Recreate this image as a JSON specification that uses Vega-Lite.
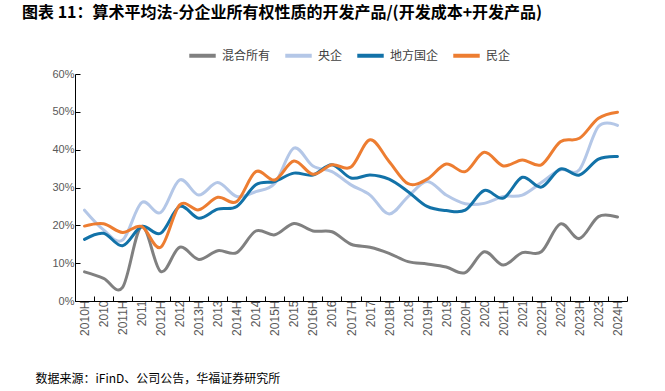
{
  "$schema": "https://vega.github.io/schema/vega-lite/v6.json",
  "width": 552,
  "height": 227,
  "autosize": "none",
  "padding": {"left": 75, "top": 74, "right": 38, "bottom": 90},
  "background": "white",
  "config": {"view": {"stroke": null}, "font": "Liberation Sans"},
  "title": {
    "text": "图表 11：算术平均法-分企业所有权性质的开发产品/(开发成本+开发产品)",
    "anchor": "start",
    "frame": "group",
    "dx": -53,
    "offset": 19,
    "font": "Noto Sans CJK SC",
    "fontSize": 16,
    "fontWeight": "bold",
    "color": "#000000"
  },
  "data": {
    "values": [
      {"p":"2010H","t":"混合所有","v":0.077},{"p":"2010","t":"混合所有","v":0.060},{"p":"2011H","t":"混合所有","v":0.036},{"p":"2011","t":"混合所有","v":0.197},{"p":"2012H","t":"混合所有","v":0.078},{"p":"2012","t":"混合所有","v":0.142},{"p":"2013H","t":"混合所有","v":0.110},{"p":"2013","t":"混合所有","v":0.133},{"p":"2014H","t":"混合所有","v":0.128},{"p":"2014","t":"混合所有","v":0.185},{"p":"2015H","t":"混合所有","v":0.175},{"p":"2015","t":"混合所有","v":0.205},{"p":"2016H","t":"混合所有","v":0.185},{"p":"2016","t":"混合所有","v":0.183},{"p":"2017H","t":"混合所有","v":0.150},{"p":"2017","t":"混合所有","v":0.142},{"p":"2018H","t":"混合所有","v":0.126},{"p":"2018","t":"混合所有","v":0.104},{"p":"2019H","t":"混合所有","v":0.098},{"p":"2019","t":"混合所有","v":0.090},{"p":"2020H","t":"混合所有","v":0.075},{"p":"2020","t":"混合所有","v":0.130},{"p":"2021H","t":"混合所有","v":0.095},{"p":"2021","t":"混合所有","v":0.128},{"p":"2022H","t":"混合所有","v":0.130},{"p":"2022","t":"混合所有","v":0.204},{"p":"2023H","t":"混合所有","v":0.165},{"p":"2023","t":"混合所有","v":0.223},{"p":"2024H","t":"混合所有","v":0.222},
      {"p":"2010H","t":"央企","v":0.240},{"p":"2010","t":"央企","v":0.188},{"p":"2011H","t":"央企","v":0.161},{"p":"2011","t":"央企","v":0.260},{"p":"2012H","t":"央企","v":0.234},{"p":"2012","t":"央企","v":0.320},{"p":"2013H","t":"央企","v":0.280},{"p":"2013","t":"央企","v":0.313},{"p":"2014H","t":"央企","v":0.276},{"p":"2014","t":"央企","v":0.289},{"p":"2015H","t":"央企","v":0.311},{"p":"2015","t":"央企","v":0.404},{"p":"2016H","t":"央企","v":0.357},{"p":"2016","t":"央企","v":0.342},{"p":"2017H","t":"央企","v":0.307},{"p":"2017","t":"央企","v":0.280},{"p":"2018H","t":"央企","v":0.230},{"p":"2018","t":"央企","v":0.276},{"p":"2019H","t":"央企","v":0.316},{"p":"2019","t":"央企","v":0.280},{"p":"2020H","t":"央企","v":0.257},{"p":"2020","t":"央企","v":0.258},{"p":"2021H","t":"央企","v":0.276},{"p":"2021","t":"央企","v":0.280},{"p":"2022H","t":"央企","v":0.313},{"p":"2022","t":"央企","v":0.347},{"p":"2023H","t":"央企","v":0.347},{"p":"2023","t":"央企","v":0.461},{"p":"2024H","t":"央企","v":0.464},
      {"p":"2010H","t":"地方国企","v":0.163},{"p":"2010","t":"地方国企","v":0.179},{"p":"2011H","t":"地方国企","v":0.146},{"p":"2011","t":"地方国企","v":0.197},{"p":"2012H","t":"地方国企","v":0.179},{"p":"2012","t":"地方国企","v":0.250},{"p":"2013H","t":"地方国企","v":0.219},{"p":"2013","t":"地方国企","v":0.243},{"p":"2014H","t":"地方国企","v":0.250},{"p":"2014","t":"地方国企","v":0.307},{"p":"2015H","t":"地方国企","v":0.316},{"p":"2015","t":"地方国企","v":0.338},{"p":"2016H","t":"地方国企","v":0.333},{"p":"2016","t":"地方国企","v":0.360},{"p":"2017H","t":"地方国企","v":0.325},{"p":"2017","t":"地方国企","v":0.333},{"p":"2018H","t":"地方国企","v":0.322},{"p":"2018","t":"地方国企","v":0.289},{"p":"2019H","t":"地方国企","v":0.250},{"p":"2019","t":"地方国企","v":0.239},{"p":"2020H","t":"地方国企","v":0.240},{"p":"2020","t":"地方国企","v":0.292},{"p":"2021H","t":"地方国企","v":0.272},{"p":"2021","t":"地方国企","v":0.327},{"p":"2022H","t":"地方国企","v":0.301},{"p":"2022","t":"地方国企","v":0.349},{"p":"2023H","t":"地方国企","v":0.333},{"p":"2023","t":"地方国企","v":0.375},{"p":"2024H","t":"地方国企","v":0.382},
      {"p":"2010H","t":"民企","v":0.198},{"p":"2010","t":"民企","v":0.204},{"p":"2011H","t":"民企","v":0.181},{"p":"2011","t":"民企","v":0.197},{"p":"2012H","t":"民企","v":0.142},{"p":"2012","t":"民企","v":0.254},{"p":"2013H","t":"民企","v":0.241},{"p":"2013","t":"民企","v":0.274},{"p":"2014H","t":"民企","v":0.263},{"p":"2014","t":"民企","v":0.342},{"p":"2015H","t":"民企","v":0.320},{"p":"2015","t":"民企","v":0.370},{"p":"2016H","t":"民企","v":0.335},{"p":"2016","t":"民企","v":0.360},{"p":"2017H","t":"民企","v":0.354},{"p":"2017","t":"民企","v":0.426},{"p":"2018H","t":"民企","v":0.369},{"p":"2018","t":"民企","v":0.310},{"p":"2019H","t":"民企","v":0.322},{"p":"2019","t":"民企","v":0.362},{"p":"2020H","t":"民企","v":0.342},{"p":"2020","t":"民企","v":0.393},{"p":"2021H","t":"民企","v":0.357},{"p":"2021","t":"民企","v":0.373},{"p":"2022H","t":"民企","v":0.360},{"p":"2022","t":"民企","v":0.421},{"p":"2023H","t":"民企","v":0.430},{"p":"2023","t":"民企","v":0.483},{"p":"2024H","t":"民企","v":0.499}
    ]
  },
  "mark": {"type": "line", "interpolate": "cardinal", "strokeWidth": 3, "strokeCap": "round"},
  "encoding": {
    "x": {
      "field": "p",
      "type": "ordinal",
      "sort": null,
      "bandPosition": 0.5,
      "scale": {"type": "band", "paddingInner": 0, "paddingOuter": 0},
      "axis": {
        "title": "数据来源：iFinD、公司公告，华福证券研究所",
        "titleFont": "Noto Sans CJK SC",
        "titleFontSize": 12,
        "titleFontWeight": "normal",
        "titleColor": "#000000",
        "titleAnchor": null,
        "titleAlign": "left",
        "titleBaseline": "middle",
        "titleX": -40,
        "titleY": 77,
        "labelAngle": -90,
        "labelAlign": "right",
        "labelBaseline": "middle",
        "labelFontSize": 12,
        "labelColor": "#595959",
        "labelPadding": 4,
        "tickBand": "extent",
        "tickSize": -5,
        "tickColor": "#000000",
        "domainColor": "#000000",
        "grid": false
      }
    },
    "y": {
      "field": "v",
      "type": "quantitative",
      "scale": {"domain": [0, 0.6]},
      "axis": {
        "title": null,
        "values": [0, 0.1, 0.2, 0.3, 0.4, 0.5, 0.6],
        "format": ".0%",
        "labelFontSize": 11,
        "labelColor": "#595959",
        "labelPadding": 6,
        "tickSize": -5,
        "tickColor": "#000000",
        "domainColor": "#000000",
        "grid": false
      }
    },
    "color": {
      "field": "t",
      "type": "nominal",
      "scale": {
        "domain": ["混合所有", "央企", "地方国企", "民企"],
        "range": ["#808080", "#b4c7e7", "#1272a8", "#ed7d31"]
      },
      "legend": {
        "title": null,
        "orient": "none",
        "direction": "horizontal",
        "legendX": 112,
        "legendY": -34,
        "symbolType": "stroke",
        "symbolSize": 700,
        "symbolStrokeWidth": 4,
        "labelFont": "Noto Sans CJK SC",
        "labelFontSize": 12,
        "labelColor": "#404040",
        "columnPadding": 6,
        "labelOffset": 4
      }
    }
  }
}
